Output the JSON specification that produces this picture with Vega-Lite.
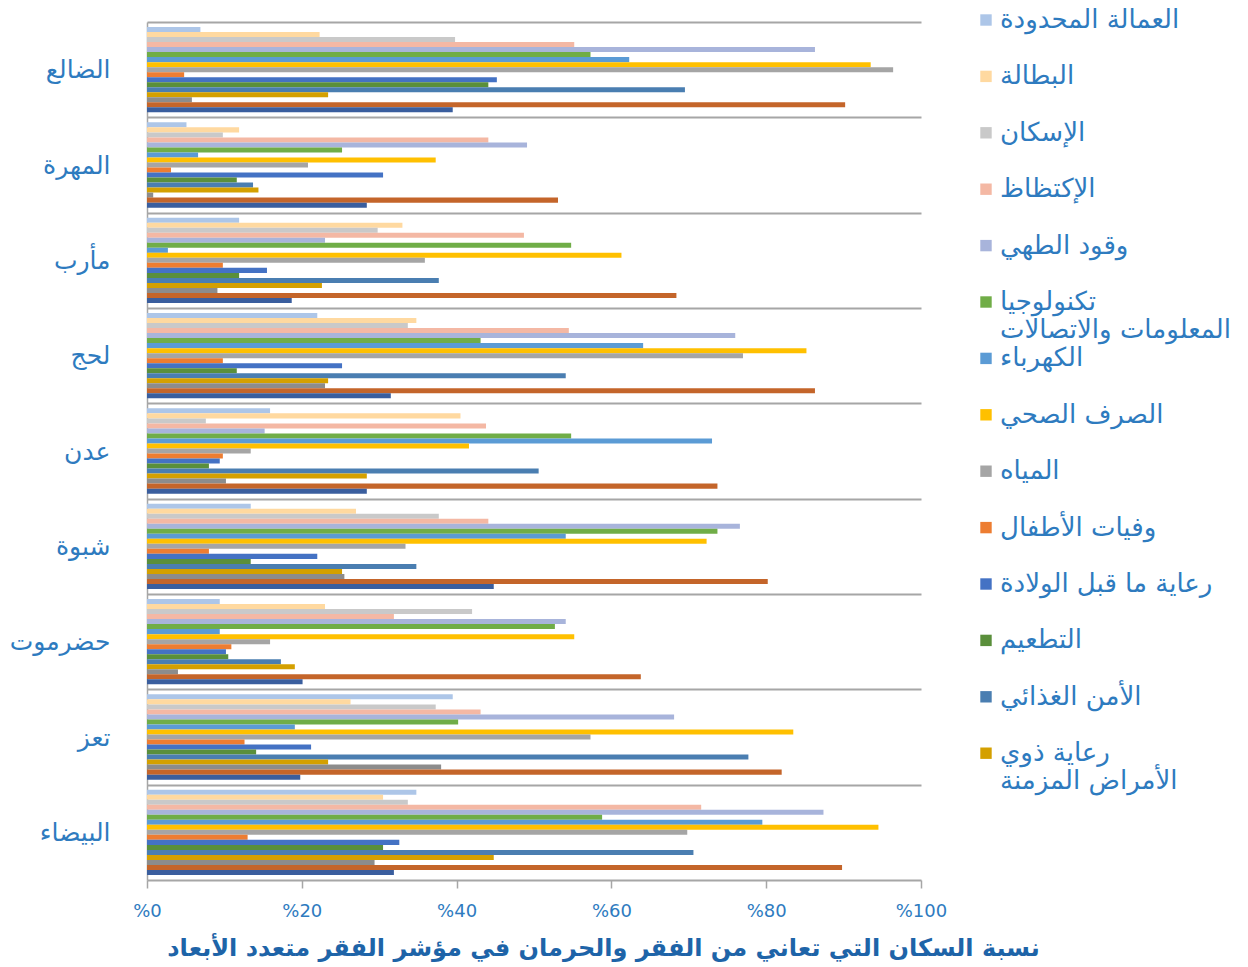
{
  "$schema": "https://vega.github.io/schema/vega-lite/v6.json",
  "autosize": {"type": "none"},
  "padding": {"left": 147, "top": 22, "right": 327, "bottom": 87},
  "width": 774,
  "height": 858,
  "background": "white",
  "config": {"view": {"stroke": null}, "font": "DejaVu Sans", "axisX": {"labelFlush": false, "labelFlushOffset": 0}},
  "data": {"values": [
    {"g":"الضالع","d":"العمالة المحدودة","v":6.9},
    {"g":"الضالع","d":"البطالة","v":22.3},
    {"g":"الضالع","d":"الإسكان","v":39.8},
    {"g":"الضالع","d":"الإكتظاظ","v":55.2},
    {"g":"الضالع","d":"وقود الطهي","v":86.3},
    {"g":"الضالع","d":"تكنولوجيا المعلومات والاتصالات","v":57.3},
    {"g":"الضالع","d":"الكهرباء","v":62.3},
    {"g":"الضالع","d":"الصرف الصحي","v":93.5},
    {"g":"الضالع","d":"المياه","v":96.4},
    {"g":"الضالع","d":"وفيات الأطفال","v":4.8},
    {"g":"الضالع","d":"رعاية ما قبل الولادة","v":45.2},
    {"g":"الضالع","d":"التطعيم","v":44.1},
    {"g":"الضالع","d":"الأمن الغذائي","v":69.5},
    {"g":"الضالع","d":"رعاية ذوي الأمراض المزمنة","v":23.4},
    {"g":"الضالع","d":"الالتحاق بالمدارس","v":5.8},
    {"g":"الضالع","d":"سنوات الدراسة","v":90.2},
    {"g":"الضالع","d":"التحصيل الدراسي","v":39.5},

    {"g":"المهرة","d":"العمالة المحدودة","v":5.1},
    {"g":"المهرة","d":"البطالة","v":11.9},
    {"g":"المهرة","d":"الإسكان","v":9.8},
    {"g":"المهرة","d":"الإكتظاظ","v":44.1},
    {"g":"المهرة","d":"وقود الطهي","v":49.1},
    {"g":"المهرة","d":"تكنولوجيا المعلومات والاتصالات","v":25.2},
    {"g":"المهرة","d":"الكهرباء","v":6.6},
    {"g":"المهرة","d":"الصرف الصحي","v":37.3},
    {"g":"المهرة","d":"المياه","v":20.8},
    {"g":"المهرة","d":"وفيات الأطفال","v":3.1},
    {"g":"المهرة","d":"رعاية ما قبل الولادة","v":30.5},
    {"g":"المهرة","d":"التطعيم","v":11.6},
    {"g":"المهرة","d":"الأمن الغذائي","v":13.7},
    {"g":"المهرة","d":"رعاية ذوي الأمراض المزمنة","v":14.4},
    {"g":"المهرة","d":"الالتحاق بالمدارس","v":0.8},
    {"g":"المهرة","d":"سنوات الدراسة","v":53.1},
    {"g":"المهرة","d":"التحصيل الدراسي","v":28.4},

    {"g":"مأرب","d":"العمالة المحدودة","v":11.9},
    {"g":"مأرب","d":"البطالة","v":33.0},
    {"g":"مأرب","d":"الإسكان","v":29.8},
    {"g":"مأرب","d":"الإكتظاظ","v":48.7},
    {"g":"مأرب","d":"وقود الطهي","v":23.0},
    {"g":"مأرب","d":"تكنولوجيا المعلومات والاتصالات","v":54.8},
    {"g":"مأرب","d":"الكهرباء","v":2.7},
    {"g":"مأرب","d":"الصرف الصحي","v":61.3},
    {"g":"مأرب","d":"المياه","v":35.9},
    {"g":"مأرب","d":"وفيات الأطفال","v":9.8},
    {"g":"مأرب","d":"رعاية ما قبل الولادة","v":15.5},
    {"g":"مأرب","d":"التطعيم","v":11.9},
    {"g":"مأرب","d":"الأمن الغذائي","v":37.7},
    {"g":"مأرب","d":"رعاية ذوي الأمراض المزمنة","v":22.6},
    {"g":"مأرب","d":"الالتحاق بالمدارس","v":9.1},
    {"g":"مأرب","d":"سنوات الدراسة","v":68.4},
    {"g":"مأرب","d":"التحصيل الدراسي","v":18.7},

    {"g":"لحج","d":"العمالة المحدودة","v":22.0},
    {"g":"لحج","d":"البطالة","v":34.8},
    {"g":"لحج","d":"الإسكان","v":33.7},
    {"g":"لحج","d":"الإكتظاظ","v":54.5},
    {"g":"لحج","d":"وقود الطهي","v":76.0},
    {"g":"لحج","d":"تكنولوجيا المعلومات والاتصالات","v":43.1},
    {"g":"لحج","d":"الكهرباء","v":64.1},
    {"g":"لحج","d":"الصرف الصحي","v":85.2},
    {"g":"لحج","d":"المياه","v":77.0},
    {"g":"لحج","d":"وفيات الأطفال","v":9.8},
    {"g":"لحج","d":"رعاية ما قبل الولادة","v":25.2},
    {"g":"لحج","d":"التطعيم","v":11.6},
    {"g":"لحج","d":"الأمن الغذائي","v":54.1},
    {"g":"لحج","d":"رعاية ذوي الأمراض المزمنة","v":23.4},
    {"g":"لحج","d":"الالتحاق بالمدارس","v":23.0},
    {"g":"لحج","d":"سنوات الدراسة","v":86.3},
    {"g":"لحج","d":"التحصيل الدراسي","v":31.5},

    {"g":"عدن","d":"العمالة المحدودة","v":15.9},
    {"g":"عدن","d":"البطالة","v":40.5},
    {"g":"عدن","d":"الإسكان","v":7.6},
    {"g":"عدن","d":"الإكتظاظ","v":43.8},
    {"g":"عدن","d":"وقود الطهي","v":15.2},
    {"g":"عدن","d":"تكنولوجيا المعلومات والاتصالات","v":54.8},
    {"g":"عدن","d":"الكهرباء","v":73.0},
    {"g":"عدن","d":"الصرف الصحي","v":41.6},
    {"g":"عدن","d":"المياه","v":13.4},
    {"g":"عدن","d":"وفيات الأطفال","v":9.8},
    {"g":"عدن","d":"رعاية ما قبل الولادة","v":9.4},
    {"g":"عدن","d":"التطعيم","v":8.0},
    {"g":"عدن","d":"الأمن الغذائي","v":50.6},
    {"g":"عدن","d":"رعاية ذوي الأمراض المزمنة","v":28.4},
    {"g":"عدن","d":"الالتحاق بالمدارس","v":10.2},
    {"g":"عدن","d":"سنوات الدراسة","v":73.7},
    {"g":"عدن","d":"التحصيل الدراسي","v":28.4},

    {"g":"شبوة","d":"العمالة المحدودة","v":13.4},
    {"g":"شبوة","d":"البطالة","v":27.0},
    {"g":"شبوة","d":"الإسكان","v":37.7},
    {"g":"شبوة","d":"الإكتظاظ","v":44.1},
    {"g":"شبوة","d":"وقود الطهي","v":76.6},
    {"g":"شبوة","d":"تكنولوجيا المعلومات والاتصالات","v":73.7},
    {"g":"شبوة","d":"الكهرباء","v":54.1},
    {"g":"شبوة","d":"الصرف الصحي","v":72.3},
    {"g":"شبوة","d":"المياه","v":33.4},
    {"g":"شبوة","d":"وفيات الأطفال","v":8.0},
    {"g":"شبوة","d":"رعاية ما قبل الولادة","v":22.0},
    {"g":"شبوة","d":"التطعيم","v":13.4},
    {"g":"شبوة","d":"الأمن الغذائي","v":34.8},
    {"g":"شبوة","d":"رعاية ذوي الأمراض المزمنة","v":25.2},
    {"g":"شبوة","d":"الالتحاق بالمدارس","v":25.5},
    {"g":"شبوة","d":"سنوات الدراسة","v":80.2},
    {"g":"شبوة","d":"التحصيل الدراسي","v":44.8},

    {"g":"حضرموت","d":"العمالة المحدودة","v":9.4},
    {"g":"حضرموت","d":"البطالة","v":23.0},
    {"g":"حضرموت","d":"الإسكان","v":42.0},
    {"g":"حضرموت","d":"الإكتظاظ","v":31.9},
    {"g":"حضرموت","d":"وقود الطهي","v":54.1},
    {"g":"حضرموت","d":"تكنولوجيا المعلومات والاتصالات","v":52.7},
    {"g":"حضرموت","d":"الكهرباء","v":9.4},
    {"g":"حضرموت","d":"الصرف الصحي","v":55.2},
    {"g":"حضرموت","d":"المياه","v":15.9},
    {"g":"حضرموت","d":"وفيات الأطفال","v":10.9},
    {"g":"حضرموت","d":"رعاية ما قبل الولادة","v":10.2},
    {"g":"حضرموت","d":"التطعيم","v":10.5},
    {"g":"حضرموت","d":"الأمن الغذائي","v":17.3},
    {"g":"حضرموت","d":"رعاية ذوي الأمراض المزمنة","v":19.1},
    {"g":"حضرموت","d":"الالتحاق بالمدارس","v":4.0},
    {"g":"حضرموت","d":"سنوات الدراسة","v":63.8},
    {"g":"حضرموت","d":"التحصيل الدراسي","v":20.1},

    {"g":"تعز","d":"العمالة المحدودة","v":39.5},
    {"g":"تعز","d":"البطالة","v":26.3},
    {"g":"تعز","d":"الإسكان","v":37.3},
    {"g":"تعز","d":"الإكتظاظ","v":43.1},
    {"g":"تعز","d":"وقود الطهي","v":68.1},
    {"g":"تعز","d":"تكنولوجيا المعلومات والاتصالات","v":40.2},
    {"g":"تعز","d":"الكهرباء","v":19.1},
    {"g":"تعز","d":"الصرف الصحي","v":83.5},
    {"g":"تعز","d":"المياه","v":57.3},
    {"g":"تعز","d":"وفيات الأطفال","v":12.6},
    {"g":"تعز","d":"رعاية ما قبل الولادة","v":21.2},
    {"g":"تعز","d":"التطعيم","v":14.1},
    {"g":"تعز","d":"الأمن الغذائي","v":77.7},
    {"g":"تعز","d":"رعاية ذوي الأمراض المزمنة","v":23.4},
    {"g":"تعز","d":"الالتحاق بالمدارس","v":38.0},
    {"g":"تعز","d":"سنوات الدراسة","v":82.0},
    {"g":"تعز","d":"التحصيل الدراسي","v":19.8},

    {"g":"البيضاء","d":"العمالة المحدودة","v":34.8},
    {"g":"البيضاء","d":"البطالة","v":30.5},
    {"g":"البيضاء","d":"الإسكان","v":33.7},
    {"g":"البيضاء","d":"الإكتظاظ","v":71.6},
    {"g":"البيضاء","d":"وقود الطهي","v":87.4},
    {"g":"البيضاء","d":"تكنولوجيا المعلومات والاتصالات","v":58.8},
    {"g":"البيضاء","d":"الكهرباء","v":79.5},
    {"g":"البيضاء","d":"الصرف الصحي","v":94.5},
    {"g":"البيضاء","d":"المياه","v":69.8},
    {"g":"البيضاء","d":"وفيات الأطفال","v":13.0},
    {"g":"البيضاء","d":"رعاية ما قبل الولادة","v":32.6},
    {"g":"البيضاء","d":"التطعيم","v":30.5},
    {"g":"البيضاء","d":"الأمن الغذائي","v":70.6},
    {"g":"البيضاء","d":"رعاية ذوي الأمراض المزمنة","v":44.8},
    {"g":"البيضاء","d":"الالتحاق بالمدارس","v":29.4},
    {"g":"البيضاء","d":"سنوات الدراسة","v":89.8},
    {"g":"البيضاء","d":"التحصيل الدراسي","v":31.9}
  ]},
  "mark": {"type": "bar"},
  "encoding": {
    "y": {
      "field": "g", "type": "nominal",
      "sort": ["الضالع","المهرة","مأرب","لحج","عدن","شبوة","حضرموت","تعز","البيضاء"],
      "scale": {"paddingInner": 0, "paddingOuter": 0},
      "axis": {
        "title": null, "tickBand": "extent", "grid": true, "gridColor": "#A6A6A6", "gridWidth": 2,
        "ticks": false, "domain": true, "domainColor": "#A6A6A6", "domainWidth": 1.5,
        "labelFontSize": 25, "labelColor": "#2E7BBF", "labelPadding": 37
      }
    },
    "yOffset": {
      "field": "d", "type": "nominal",
      "sort": ["العمالة المحدودة","البطالة","الإسكان","الإكتظاظ","وقود الطهي","تكنولوجيا المعلومات والاتصالات","الكهرباء","الصرف الصحي","المياه","وفيات الأطفال","رعاية ما قبل الولادة","التطعيم","الأمن الغذائي","رعاية ذوي الأمراض المزمنة","الالتحاق بالمدارس","سنوات الدراسة","التحصيل الدراسي"],
      "scale": {"paddingInner": 0, "paddingOuter": 1.85}
    },
    "x": {
      "field": "v", "type": "quantitative",
      "scale": {"domain": [0, 100], "nice": false},
      "axis": {
        "values": [0, 20, 40, 60, 80, 100], "labelExpr": "'%' + datum.value", "labelFlush": false, "labelAlign": "center", "labelBound": false,
        "grid": false, "domain": false, "ticks": true, "tickSize": 8, "tickColor": "#A6A6A6", "tickWidth": 1.5,
        "labelFontSize": 18, "labelColor": "#2E7BBF", "labelPadding": 14, "labelDx": 6,
        "title": "نسبة السكان التي تعاني من الفقر والحرمان في مؤشر الفقر متعدد الأبعاد",
        "titleFontSize": 24, "titleFontWeight": "bold", "titleColor": "#1E64A8", "titlePadding": 16, "titleX": 456
      }
    },
    "color": {
      "field": "d", "type": "nominal",
      "scale": {
        "domain": ["العمالة المحدودة","البطالة","الإسكان","الإكتظاظ","وقود الطهي","تكنولوجيا المعلومات والاتصالات","الكهرباء","الصرف الصحي","المياه","وفيات الأطفال","رعاية ما قبل الولادة","التطعيم","الأمن الغذائي","رعاية ذوي الأمراض المزمنة","الالتحاق بالمدارس","سنوات الدراسة","التحصيل الدراسي"],
        "range": ["#ADC6E8","#FFD9A0","#C9C9C9","#F4B8A4","#A8B4DB","#70AD47","#5B9BD5","#FFC000","#A5A5A5","#ED7D31","#4472C4","#5A8F3B","#4A7EB1","#D4A000","#8C8C8C","#C4652A","#3A5E9E"]
      },
      "legend": {
        "orient": "none", "legendX": 826, "legendY": -15, "title": null,
        "values": ["العمالة المحدودة","البطالة","الإسكان","الإكتظاظ","وقود الطهي","تكنولوجيا المعلومات والاتصالات","الكهرباء","الصرف الصحي","المياه","وفيات الأطفال","رعاية ما قبل الولادة","التطعيم","الأمن الغذائي","رعاية ذوي الأمراض المزمنة"],
        "symbolType": "square", "symbolSize": 130, "symbolStrokeWidth": 0,
        "labelFontSize": 26, "labelColor": "#2E7BBF", "labelOffset": 1, "labelLimit": 400,
        "rowPadding": 2.4,
        "labelExpr": "datum.label == 'تكنولوجيا المعلومات والاتصالات' ? ['تكنولوجيا', 'المعلومات والاتصالات'] : datum.label == 'رعاية ذوي الأمراض المزمنة' ? ['رعاية ذوي', 'الأمراض المزمنة'] : [datum.label, '']"
      }
    }
  }
}
